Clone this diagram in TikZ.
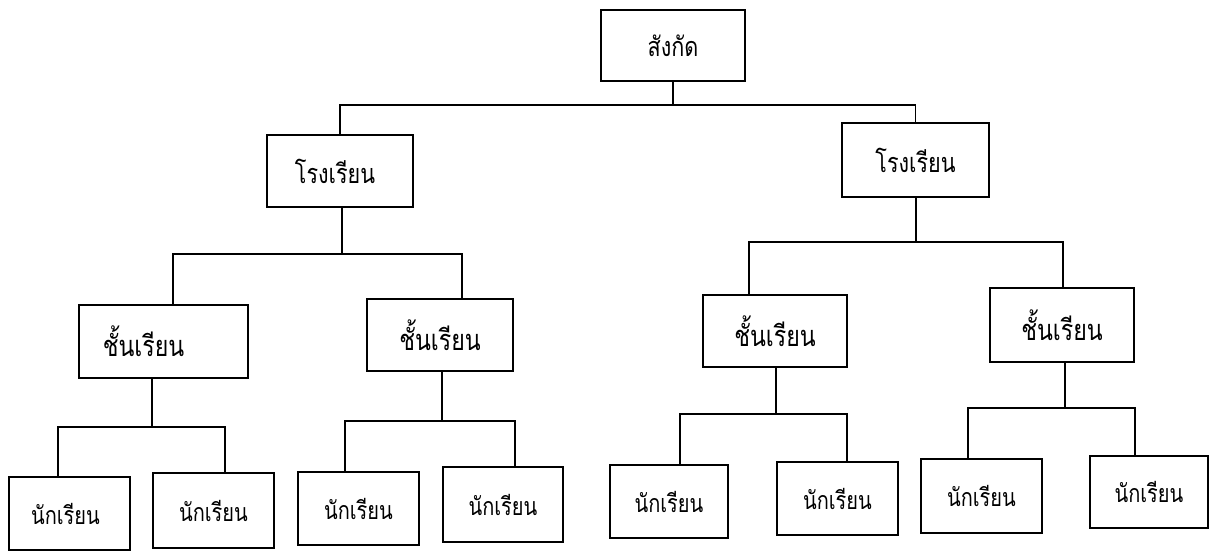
\documentclass[tikz,border=0pt]{standalone}
\usepackage{fontspec}
\newfontfamily\thaifont[Script=Thai,FakeStretch=0.8]{Loma}
\begin{document}
\begin{tikzpicture}[x=1pt,y=-1pt,
  box/.style={draw,line width=1.6pt,inner sep=0pt,font=\thaifont},
  conn/.style={draw,line width=1.6pt},
  rootbox/.style={box,font=\thaifont\fontsize{27}{31}\selectfont},
  schoolbox/.style={box,font=\thaifont\fontsize{27}{31}\selectfont},
  classbox/.style={box,font=\thaifont\fontsize{29}{33}\selectfont},
  studbox/.style={box,font=\thaifont\fontsize{25}{29}\selectfont}]
\useasboundingbox (0,0) rectangle (1214,552);
% nodes
\node[rootbox,minimum width=144pt,minimum height=71pt] (root) at (673,45.5) {สังกัด};
\node[schoolbox,minimum width=146pt,minimum height=72pt] (sc1) at (340,171) {โรงเรียน\hspace*{10pt}};
\node[schoolbox,minimum width=147pt,minimum height=74pt] (sc2) at (915.5,160) {โรงเรียน};
\node[classbox,minimum width=169pt,minimum height=73pt] (c1) at (163.5,341.5) {ชั้นเรียน\hspace*{40pt}};
\node[classbox,minimum width=146pt,minimum height=72pt] (c2) at (440,335) {ชั้นเรียน};
\node[classbox,minimum width=144pt,minimum height=72pt] (c3) at (775,331) {ชั้นเรียน};
\node[classbox,minimum width=144pt,minimum height=74pt] (c4) at (1062,325) {ชั้นเรียน};
\node[studbox,minimum width=121pt,minimum height=73pt] (s1) at (69.5,513.5) {นักเรียน\hspace*{8pt}};
\node[studbox,minimum width=121pt,minimum height=75pt] (s2) at (213.5,510.5) {นักเรียน};
\node[studbox,minimum width=121pt,minimum height=73pt] (s3) at (358.5,508.5) {นักเรียน};
\node[studbox,minimum width=120pt,minimum height=75pt] (s4) at (503,504.5) {นักเรียน};
\node[studbox,minimum width=118pt,minimum height=73pt] (s5) at (669,501.5) {นักเรียน};
\node[studbox,minimum width=121pt,minimum height=73pt] (s6) at (837.5,498.5) {นักเรียน};
\node[studbox,minimum width=121pt,minimum height=74pt] (s7) at (981.5,496) {นักเรียน};
\node[studbox,minimum width=118pt,minimum height=72pt] (s8) at (1149,492) {นักเรียน};
% bus coordinates
\coordinate (b0l) at (340,105);  \coordinate (b0r) at (915.5,105); \coordinate (b0j) at (673,105);
\coordinate (b1l) at (173,254);  \coordinate (b1r) at (462,254);   \coordinate (b1j) at (342,254);
\coordinate (b2l) at (749,242);  \coordinate (b2r) at (1063,242);  \coordinate (b2j) at (916,242);
\coordinate (b3l) at (58,427);   \coordinate (b3r) at (225,427);   \coordinate (b3j) at (152,427);
\coordinate (b4l) at (345,421);  \coordinate (b4r) at (515,421);   \coordinate (b4j) at (442,421);
\coordinate (b5l) at (680,414);  \coordinate (b5r) at (847,414);   \coordinate (b5j) at (776,414);
\coordinate (b6l) at (968,408);  \coordinate (b6r) at (1135,408);  \coordinate (b6j) at (1065,408);
% connectors
\draw[conn] (b0j |- root.south) -- (b0j);
\draw[conn] (b0l |- sc1.north) -- (b0l) -- (b0r) -- (b0r |- sc2.north);
\draw[conn] (b1j |- sc1.south) -- (b1j);
\draw[conn] (b1l |- c1.north) -- (b1l) -- (b1r) -- (b1r |- c2.north);
\draw[conn] (b2j |- sc2.south) -- (b2j);
\draw[conn] (b2l |- c3.north) -- (b2l) -- (b2r) -- (b2r |- c4.north);
\draw[conn] (b3j |- c1.south) -- (b3j);
\draw[conn] (b3l |- s1.north) -- (b3l) -- (b3r) -- (b3r |- s2.north);
\draw[conn] (b4j |- c2.south) -- (b4j);
\draw[conn] (b4l |- s3.north) -- (b4l) -- (b4r) -- (b4r |- s4.north);
\draw[conn] (b5j |- c3.south) -- (b5j);
\draw[conn] (b5l |- s5.north) -- (b5l) -- (b5r) -- (b5r |- s6.north);
\draw[conn] (b6j |- c4.south) -- (b6j);
\draw[conn] (b6l |- s7.north) -- (b6l) -- (b6r) -- (b6r |- s8.north);
\end{tikzpicture}
\end{document}
